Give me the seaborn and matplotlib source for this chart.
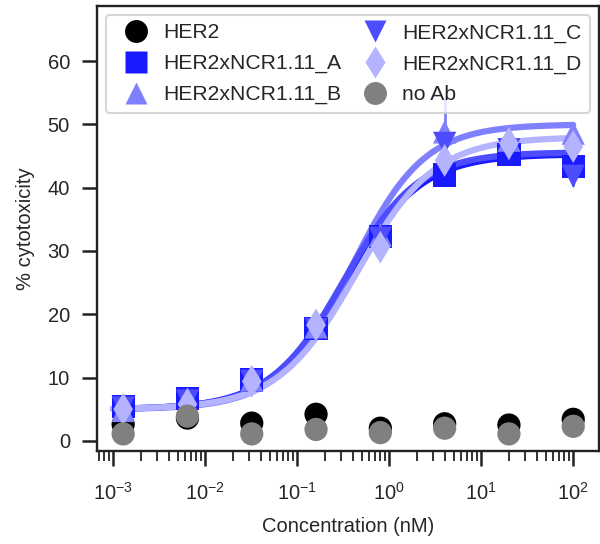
import numpy as np
import pandas as pd
import seaborn as sns
import matplotlib.pyplot as plt
from matplotlib.lines import Line2D
from matplotlib.ticker import LogLocator, NullFormatter

# Antibody concentrations (nM) and % cytotoxicity per construct
conc = [0.00128, 0.0064, 0.032, 0.16, 0.8, 4, 20, 100]
series = ["HER2", "HER2xNCR1.11_A", "HER2xNCR1.11_B",
          "HER2xNCR1.11_C", "HER2xNCR1.11_D", "no Ab"]
her2 = [2.6, 3.6, 2.8, 4.2, 2.0, 2.7, 2.5, 3.4]
ncr_a = [5.4, 6.7, 9.6, 17.8, 32.3, 42.0, 45.2, 43.3]
ncr_b = [4.8, 5.6, 9.6, 18.0, 32.5, 48.8, 47.5, 48.6]
ncr_c = [5.2, 6.3, 9.4, 17.6, 32.0, 47.0, 46.0, 41.8]
ncr_d = [5.0, 5.8, 9.4, 18.3, 30.6, 44.3, 47.0, 46.5]
no_ab = [1.1, 3.9, 1.1, 1.8, 1.3, 2.0, 1.1, 2.3]

# Standard deviations of the replicates
sd_her2 = [0.5, 0.6, 0.5, 0.6, 0.4, 0.5, 0.4, 0.5]
sd_a = [0.6, 0.8, 0.9, 1.2, 1.5, 1.8, 1.5, 1.8]
sd_b = [0.6, 0.7, 0.9, 1.2, 1.6, 5.5, 1.6, 1.5]
sd_c = [0.6, 0.7, 0.8, 1.1, 1.5, 2.0, 1.6, 1.5]
sd_d = [0.5, 0.7, 0.8, 1.2, 1.6, 1.8, 1.5, 1.6]
sd_no_ab = [0.4, 0.6, 0.4, 0.5, 0.4, 0.5, 0.4, 0.5]

# Four-parameter logistic fits for the bispecific constructs
fit_series = ["HER2xNCR1.11_A", "HER2xNCR1.11_B", "HER2xNCR1.11_C", "HER2xNCR1.11_D"]
fit_bottom = [5.0, 5.0, 5.0, 5.0]
fit_top = [45.3, 50.0, 45.6, 48.0]
fit_ec50 = [0.33, 0.39, 0.32, 0.44]
fit_hill = [1.05, 1.1, 1.08, 1.02]

colors = {
    "HER2": "#000000",
    "HER2xNCR1.11_A": "#1a1aff",
    "HER2xNCR1.11_B": "#8080ff",
    "HER2xNCR1.11_C": "#4d4dff",
    "HER2xNCR1.11_D": "#b3b3ff",
    "no Ab": "#808080",
}
markers = {
    "HER2": "o",
    "HER2xNCR1.11_A": "s",
    "HER2xNCR1.11_B": "^",
    "HER2xNCR1.11_C": "v",
    "HER2xNCR1.11_D": "d",
    "no Ab": "o",
}

values = [her2, ncr_a, ncr_b, ncr_c, ncr_d, no_ab]
sds = [sd_her2, sd_a, sd_b, sd_c, sd_d, sd_no_ab]
points = pd.DataFrame({
    "conc": np.tile(conc, len(series)),
    "cytotox": np.concatenate(values),
    "sd": np.concatenate(sds),
    "series": np.repeat(series, len(conc)),
})

xfit = np.logspace(-3, 2, 300)
curves = []
for name, b, t, ec, h in zip(fit_series, fit_bottom, fit_top, fit_ec50, fit_hill):
    yfit = b + (t - b) / (1 + (ec / xfit) ** h)
    curves.append(pd.DataFrame({"conc": xfit, "cytotox": yfit, "series": name}))
curves = pd.concat(curves, ignore_index=True)

sns.set_theme(style="ticks")
plt.rcParams["font.family"] = ["Liberation Sans", "DejaVu Sans"]
plt.rcParams["mathtext.fontset"] = "custom"
plt.rcParams["mathtext.rm"] = "Liberation Sans"
plt.rcParams["mathtext.it"] = "Liberation Sans:italic"
plt.rcParams["text.color"] = "#262626"
plt.rcParams["axes.labelcolor"] = "#262626"
plt.rcParams["xtick.color"] = "#262626"
plt.rcParams["ytick.color"] = "#262626"

fig = plt.figure(figsize=(6, 5.44), dpi=100)
ax = fig.add_axes([0.1617, 0.171, 0.8366, 0.818])

sns.lineplot(data=curves, x="conc", y="cytotox", hue="series",
             palette={k: colors[k] for k in fit_series},
             hue_order=fit_series, lw=4.5, legend=False, ax=ax, zorder=2)

for name in series:
    sub = points[points["series"] == name]
    ax.errorbar(sub["conc"], sub["cytotox"], yerr=sub["sd"], fmt="none",
                ecolor=colors[name], elinewidth=2, capsize=0, zorder=3)

sns.scatterplot(data=points, x="conc", y="cytotox", hue="series", style="series",
                palette=colors, markers=markers, hue_order=series, style_order=series,
                s=280, edgecolor="none", linewidth=0, legend=False, ax=ax, zorder=4)

ax.set_xscale("log")
ax.set_xlim(10 ** -3.177, 10 ** 2.28)
ax.set_ylim(-1.6, 68.7)
ax.set_yticks([0, 10, 20, 30, 40, 50, 60])
ax.xaxis.set_minor_locator(LogLocator(base=10, subs=np.arange(2, 10), numticks=20))
ax.xaxis.set_minor_formatter(NullFormatter())

ax.set_xlabel("Concentration (nM)", fontsize=14.5, labelpad=10)
ax.set_ylabel("% cytotoxicity", fontsize=14.5, labelpad=9)
ax.tick_params(axis="both", which="major", direction="out", length=11, width=1.8,
               labelsize=14.5, color="#222222")
ax.tick_params(axis="y", which="major", pad=8.5)
ax.tick_params(axis="x", which="major", pad=11)
ax.tick_params(axis="x", which="minor", direction="out", length=7.5, width=1.3,
               color="#222222")
for side in ["left", "bottom", "top", "right"]:
    ax.spines[side].set_visible(True)
    ax.spines[side].set_color("#222222")
    ax.spines[side].set_linewidth(1.7)

handles = [Line2D([], [], linestyle="none", marker=markers[n], markersize=16.5,
                  markerfacecolor=colors[n], markeredgecolor="none") for n in series]
leg = ax.legend(handles, series, ncol=2, loc="upper left",
                bbox_to_anchor=(0.018, 0.98), fontsize=15.2, frameon=True,
                fancybox=True, borderaxespad=0, handlelength=2.0,
                handletextpad=0.3, columnspacing=0.6, labelspacing=0.56,
                borderpad=0.4)
leg.get_frame().set_edgecolor("#cccccc")
leg.get_frame().set_linewidth(1.5)
leg.set_zorder(10)

fig.savefig("out.png", dpi=100)
